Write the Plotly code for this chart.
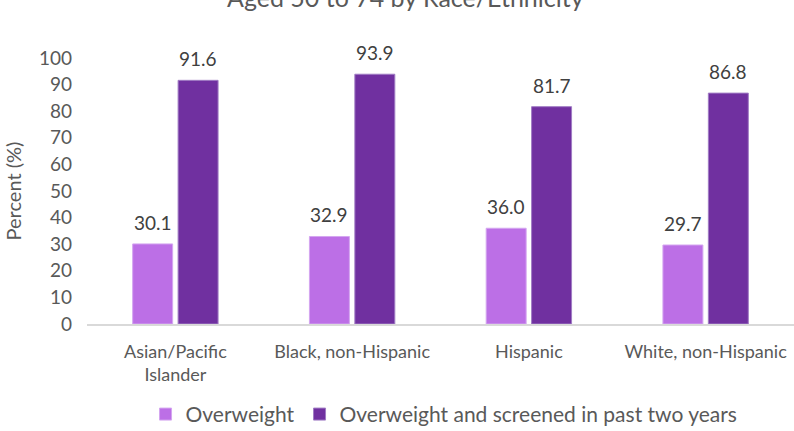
import plotly.graph_objects as go

categories = ["Asian/Pacific<br>Islander", "Black, non-Hispanic", "Hispanic", "White, non-Hispanic"]
overweight = [30.1, 32.9, 36.0, 29.7]
screened = [91.6, 93.9, 81.7, 86.8]
y_ticks = [0, 10, 20, 30, 40, 50, 60, 70, 80, 90, 100]

FONT = "Lato, Carlito, 'Open Sans', sans-serif"
TXT = "#595959"
BARGAP = 0.486

fig = go.Figure()
fig.add_trace(go.Bar(
    x=categories, y=overweight, name="Overweight",
    marker=dict(color="#BC6FE6", line=dict(color="#D4A6F0", width=1)),
))
fig.add_trace(go.Bar(
    x=categories, y=screened, name="Overweight and screened in past two years",
    marker=dict(color="#7030A0", line=dict(color="#A07CC4", width=1)),
))

# value labels above each bar, centred on its slot within the group
BAR_SHIFT = (1 - BARGAP) / 4
for series, dx in ((overweight, -BAR_SHIFT), (screened, BAR_SHIFT)):
    for i, v in enumerate(series):
        fig.add_annotation(
            x=i + dx, y=v, xref="x", yref="y", text=f"{v:.1f}",
            showarrow=False, yanchor="bottom", yshift=8,
            font=dict(size=19, color="#404040", family=FONT),
        )

fig.update_layout(
    width=794, height=431,
    margin=dict(l=87, r=0, t=58, b=107, autoexpand=False),
    paper_bgcolor="white", plot_bgcolor="white",
    font=dict(family=FONT, size=18, color=TXT),
    barmode="group", bargap=BARGAP, bargroupgap=0.12,
    showlegend=True,
    legend=dict(orientation="h", x=0.505, xanchor="center",
                yref="container", y=0.086, yanchor="top",
                font=dict(size=21, color=TXT, family=FONT), itemwidth=30,
                traceorder="normal"),
)
fig.update_yaxes(
    range=[0, 100], tickvals=y_ticks, showgrid=False, zeroline=False,
    showline=False, ticks="", tickfont=dict(size=19, color=TXT),
    ticklabelstandoff=14,
    title=dict(text="Percent (%)", font=dict(size=20, color=TXT), standoff=11),
)
fig.update_xaxes(
    showline=True, linecolor="#D9D9D9", linewidth=2, ticks="",
    tickfont=dict(size=18, color=TXT), ticklabelstandoff=10,
)
fig.add_annotation(
    text="Aged 50 to 74 by Race/Ethnicity", xref="paper", yref="paper",
    x=0.45, y=1, xanchor="center", yanchor="bottom", yshift=44, showarrow=False,
    font=dict(size=25, color=TXT, family=FONT),
)

fig.write_html("out.html")
